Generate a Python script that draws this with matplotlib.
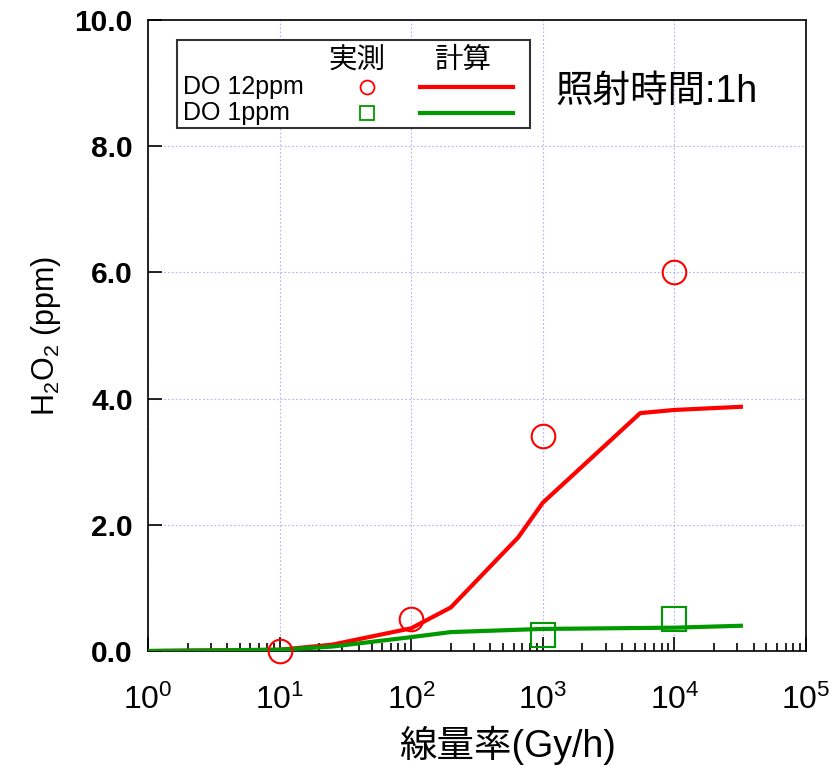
import numpy as np
import matplotlib
matplotlib.use("Agg")
import matplotlib.pyplot as plt
from matplotlib.patches import Rectangle
from matplotlib.ticker import LogLocator, NullFormatter

plt.rcParams['font.family'] = ['Liberation Sans', 'Noto Sans CJK JP', 'DejaVu Sans']
plt.rcParams['mathtext.fontset'] = 'custom'
plt.rcParams['mathtext.rm'] = 'Liberation Sans'
plt.rcParams['mathtext.it'] = 'Liberation Sans'

# calculated curves (dose rate Gy/h -> H2O2 ppm)
calc12_x = [1, 10, 25, 100, 200, 650, 1000, 5500, 10000, 32000]
calc12_y = [0.0, 0.02, 0.1, 0.36, 0.69, 1.8, 2.35, 3.77, 3.82, 3.87]
calc1_x = [1, 10, 25, 100, 200, 1000, 10000, 32000]
calc1_y = [0.0, 0.02, 0.07, 0.22, 0.30, 0.35, 0.37, 0.40]

# measured
meas12_x = [10, 100, 1000, 10000]
meas12_y = [0.0, 0.5, 3.4, 6.0]
meas1_x = [1000, 10000]
meas1_y = [0.25, 0.5]

yticks = [0, 2, 4, 6, 8, 10]
ytick_labels = ['0.0', '2.0', '4.0', '6.0', '8.0', '10.0']

fig = plt.figure(figsize=(8.38, 7.65), dpi=100)
ax = fig.add_axes([0.1766, 0.149, 0.7852, 0.8249])

ax.plot(calc12_x, calc12_y, color='#ff0000', lw=3, zorder=3)
ax.plot(calc1_x, calc1_y, color='#009900', lw=3, zorder=4)
ax.plot(meas12_x, meas12_y, 'o', ms=17, mfc='none', mec='#ff0000', mew=1.5, zorder=5, clip_on=False)
ax.plot(meas1_x, meas1_y, 's', ms=17, mfc='none', mec='#009900', mew=1.5, zorder=5, clip_on=False)

ax.set_xscale('log')
ax.set_xlim(1, 1e5)
ax.set_ylim(0, 10)
ax.set_yticks(yticks)
ax.set_yticklabels(ytick_labels, fontsize=21.5, fontweight='bold')
ax.set_xticks([10 ** i for i in range(6)])
ax.set_xticklabels(['$10^{%d}$' % i for i in range(6)], fontsize=23)
ax.xaxis.set_minor_locator(LogLocator(base=10, subs=np.arange(2, 10), numticks=20))
ax.xaxis.set_minor_formatter(NullFormatter())
ax.tick_params(axis='x', which='major', direction='in', length=10, width=1.2, pad=24)
ax.tick_params(axis='x', which='minor', direction='in', length=6, width=1.2)
ax.tick_params(axis='y', which='major', direction='in', length=10, width=1.2, pad=11)
ax.grid(True, which='major', color='#b0b0ff', ls=(0, (1.5, 2)), lw=0.8)
for sp in ax.spines.values():
    sp.set_linewidth(1.2)

ax.set_xlabel('線量率(Gy/h)', fontsize=27)
ax.xaxis.set_label_coords(0.547, -0.149)
ax.xaxis.label.set_va('center')
ax.set_ylabel('H$_2$O$_2$ (ppm)', fontsize=22, labelpad=8)

# legend drawn by hand (label / 実測 / 計算 columns)
ax.add_patch(Rectangle((0.044, 0.829), 0.536, 0.139, transform=ax.transAxes,
                       fill=True, facecolor='white', edgecolor='#333333', lw=1.5, zorder=6))
ax.text(0.317, 0.935, '実測', transform=ax.transAxes, fontsize=20.5, ha='center', va='center', zorder=7)
ax.text(0.479, 0.935, '計算', transform=ax.transAxes, fontsize=20.5, ha='center', va='center', zorder=7)
ax.text(0.053, 0.894, 'DO 12ppm', transform=ax.transAxes, fontsize=18, va='center', zorder=7)
ax.text(0.053, 0.853, 'DO 1ppm', transform=ax.transAxes, fontsize=18, va='center', zorder=7)
ax.plot([0.333], [0.894], 'o', ms=10, mfc='none', mec='#ff0000', mew=1.3, transform=ax.transAxes, zorder=7)
ax.plot([0.333], [0.853], 's', ms=10, mfc='none', mec='#009900', mew=1.3, transform=ax.transAxes, zorder=7)
ax.plot([0.413, 0.555], [0.894, 0.894], color='#ff0000', lw=3, transform=ax.transAxes, zorder=7)
ax.plot([0.413, 0.555], [0.853, 0.853], color='#009900', lw=3, transform=ax.transAxes, zorder=7)

ax.text(0.619, 0.886, '照射時間:1h', transform=ax.transAxes, fontsize=27, va='center')

fig.savefig('out.png', dpi=100)
